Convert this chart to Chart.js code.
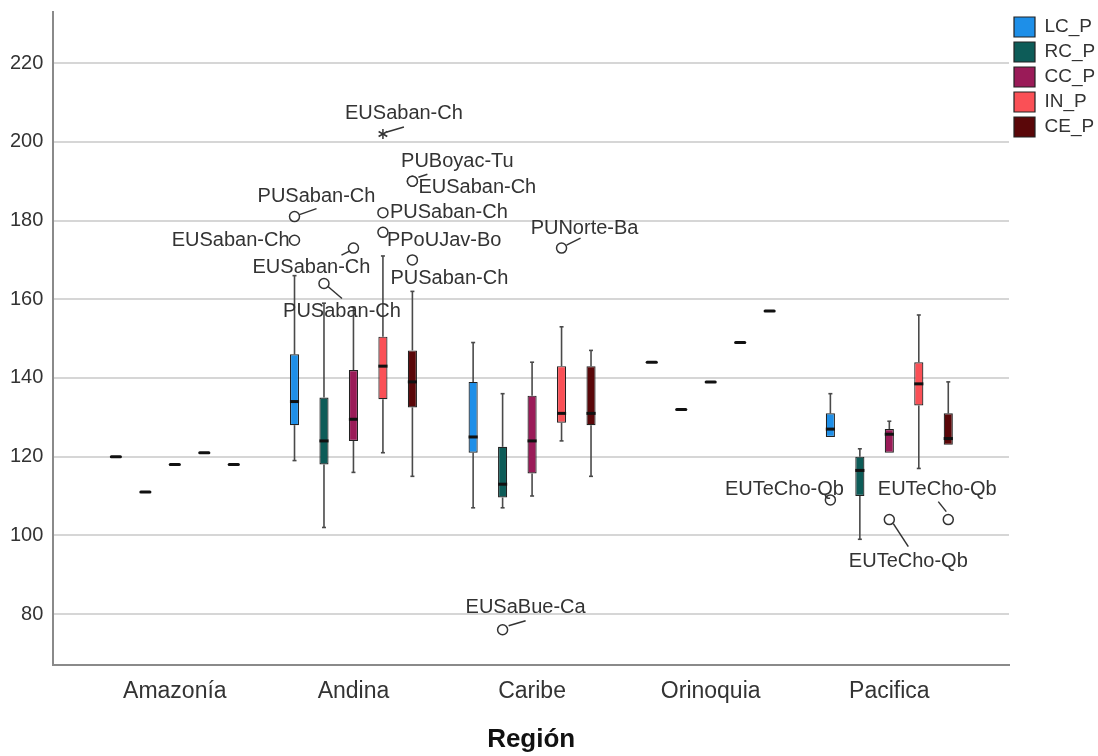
<!DOCTYPE html>
<html lang="es">
<head>
<meta charset="UTF-8">
<title>Diagrama de cajas por Región</title>
<script src="https://cdn.jsdelivr.net/npm/chart.js"></script>
<style>
  html, body { margin: 0; padding: 0; background: #fff; }
  #wrap { width: 1098px; height: 756px; }
</style>
</head>
<body>
<div id="wrap"><canvas id="boxChart" width="1098" height="756"></canvas></div>
<script>
// categories and series
const regions = ['Amazonía', 'Andina', 'Caribe', 'Orinoquia', 'Pacifica'];
const seriesNames = ['LC_P', 'RC_P', 'CC_P', 'IN_P', 'CE_P'];

// [min, q1, median, q3, max] per region (single cases: all five equal)
const lcStats = [[120, 120, 120, 120, 120], [119, 128, 134, 146, 166], [107, 121, 125, 139, 149], [144, 144, 144, 144, 144], [125, 125, 127, 131, 136]];
const rcStats = [[111, 111, 111, 111, 111], [102, 118, 124, 135, 159], [107, 109.6, 113, 122.5, 136], [132, 132, 132, 132, 132], [99, 110, 116.5, 120, 122]];
const ccStats = [[118, 118, 118, 118, 118], [116, 124, 129.5, 142, 158], [110, 115.7, 124, 135.5, 144], [139, 139, 139, 139, 139], [121, 121, 125.7, 127, 129]];
const inStats = [[121, 121, 121, 121, 121], [121, 134.6, 143, 150.5, 171], [124, 128.6, 131, 143, 153], [149, 149, 149, 149, 149], [117, 133, 138.5, 144, 156]];
const ceStats = [[118, 118, 118, 118, 118], [115, 132.5, 139, 147, 162], [115, 128, 131, 143, 147], [157, 157, 157, 157, 157], [123, 123, 124.6, 131, 139]];
const allStats = [lcStats, rcStats, ccStats, inStats, ceStats];

const yTicks = [80, 100, 120, 140, 160, 180, 200, 220];

// outliers: [region, series, value, case label, marker]
const outliers = [
  ['Andina', 'LC_P', 181, 'PUSaban-Ch', 'o'],
  ['Andina', 'LC_P', 175, 'EUSaban-Ch', 'o'],
  ['Andina', 'RC_P', 164, 'PUSaban-Ch', 'o'],
  ['Andina', 'CC_P', 173, 'EUSaban-Ch', 'o'],
  ['Andina', 'IN_P', 202, 'EUSaban-Ch', '*'],
  ['Andina', 'IN_P', 182, 'PUSaban-Ch', 'o'],
  ['Andina', 'IN_P', 177, 'PPoUJav-Bo', 'o'],
  ['Andina', 'CE_P', 190, 'PUBoyac-Tu', 'o'],
  ['Andina', 'CE_P', 190, 'EUSaban-Ch', 'o'],
  ['Andina', 'CE_P', 170, 'PUSaban-Ch', 'o'],
  ['Caribe', 'RC_P', 76, 'EUSaBue-Ca', 'o'],
  ['Caribe', 'IN_P', 173, 'PUNorte-Ba', 'o'],
  ['Pacifica', 'LC_P', 109, 'EUTeCho-Qb', 'o'],
  ['Pacifica', 'CC_P', 104, 'EUTeCho-Qb', 'o'],
  ['Pacifica', 'CE_P', 104, 'EUTeCho-Qb', 'o']
];

// where each outlier's label sits, in px relative to its marker (same order)
const labelPlacement = [
  { dx: 22, dy: -20, align: 'center', lead: [5, -2, 22, -8] },
  { dx: -5, dy: 0, align: 'right' },
  { dx: 18, dy: 28, align: 'center', lead: [4, 3, 18, 15] },
  { dx: -42, dy: 19, align: 'center', lead: [-4, 3, -12, 7] },
  { dx: 21, dy: -20, align: 'center', lead: [4, -2, 21, -7] },
  { dx: 7, dy: 0, align: 'left' },
  { dx: 4, dy: 8, align: 'left' },
  { dx: 45, dy: -20, align: 'center', lead: [6, -4, 15, -7] },
  { dx: 6, dy: 6, align: 'left' },
  { dx: 37, dy: 19, align: 'center' },
  { dx: 23, dy: -22, align: 'center', lead: [6, -4, 23, -9] },
  { dx: 23, dy: -20, align: 'center', lead: [5, -3, 19, -10] },
  { dx: -46, dy: -10, align: 'center' },
  { dx: 19, dy: 42, align: 'center', lead: [4, 4, 19, 27] },
  { dx: -11, dy: -30, align: 'center', lead: [-2, -8, -10, -18] }
];

const seriesColors = ['#1E8FE8', '#0D5C58', '#9A1B58', '#FA5056', '#5A0709'];
const FONT = '"Liberation Sans", Arial, sans-serif';
const CAT_PCT = 0.825;
const BAR_PCT = 0.31;

Chart.defaults.font.family = FONT;

// pixel x of a series inside a region, same math as grouped bars
function markX(chart, ci, si) {
  const xs = chart.scales.x;
  const unit = xs.getPixelForValue(1) - xs.getPixelForValue(0);
  const chunk = unit * CAT_PCT / seriesNames.length;
  return xs.getPixelForValue(ci) + (si - (seriesNames.length - 1) / 2) * chunk;
}
function halfWidth(chart) {
  const xs = chart.scales.x;
  const unit = xs.getPixelForValue(1) - xs.getPixelForValue(0);
  return unit * CAT_PCT / seriesNames.length * BAR_PCT / 2;
}

const boxPlugin = {
  id: 'boxParts',
  beforeDatasetsDraw(chart) {
    // whiskers behind the boxes
    const ctx = chart.ctx, ys = chart.scales.y;
    ctx.save();
    ctx.strokeStyle = '#4a4a4a';
    ctx.lineWidth = 1.6;
    allStats.forEach((stats, si) => {
      stats.forEach((s, ci) => {
        if (s[1] === s[3]) return;
        const x = markX(chart, ci, si);
        const segs = [[s[3], s[4]], [s[1], s[0]]];
        segs.forEach(([a, b]) => {
          if (a === b) return;
          ctx.beginPath();
          ctx.moveTo(x, ys.getPixelForValue(a));
          ctx.lineTo(x, ys.getPixelForValue(b));
          ctx.stroke();
          ctx.beginPath();
          ctx.moveTo(x - 2, ys.getPixelForValue(b));
          ctx.lineTo(x + 2, ys.getPixelForValue(b));
          ctx.stroke();
        });
      });
    });
    ctx.restore();
  },
  afterDatasetsDraw(chart) {
    const ctx = chart.ctx, ys = chart.scales.y;
    const hw = halfWidth(chart);
    ctx.save();
    // medians
    ctx.strokeStyle = '#111';
    ctx.lineWidth = 3;
    allStats.forEach((stats, si) => {
      stats.forEach((s, ci) => {
        const x = markX(chart, ci, si);
        const y = ys.getPixelForValue(s[2]);
        ctx.lineCap = s[1] === s[3] ? 'round' : 'butt';
        ctx.beginPath();
        ctx.moveTo(x - hw, y);
        ctx.lineTo(x + hw, y);
        ctx.stroke();
      });
    });
    ctx.lineCap = 'butt';
    // outliers, leader lines and case labels
    ctx.font = '20px ' + FONT;
    ctx.textBaseline = 'middle';
    outliers.forEach((o, k) => {
      const ci = regions.indexOf(o[0]);
      const si = seriesNames.indexOf(o[1]);
      const x = markX(chart, ci, si);
      const y = ys.getPixelForValue(o[2]);
      ctx.strokeStyle = '#333';
      ctx.lineWidth = 1.5;
      if (o[4] === '*') {
        for (let a = 0; a < 3; a++) {
          const ang = Math.PI / 2 + a * Math.PI / 3;
          ctx.beginPath();
          ctx.moveTo(x - 5 * Math.cos(ang), y - 5 * Math.sin(ang));
          ctx.lineTo(x + 5 * Math.cos(ang), y + 5 * Math.sin(ang));
          ctx.stroke();
        }
      } else {
        ctx.beginPath();
        ctx.arc(x, y, 5, 0, Math.PI * 2);
        ctx.fillStyle = '#fff';
        ctx.fill();
        ctx.stroke();
      }
      const p = labelPlacement[k];
      if (p.lead) {
        ctx.beginPath();
        ctx.moveTo(x + p.lead[0], y + p.lead[1]);
        ctx.lineTo(x + p.lead[2], y + p.lead[3]);
        ctx.stroke();
      }
      ctx.fillStyle = '#333';
      ctx.textAlign = p.align;
      ctx.fillText(o[3], x + p.dx, y + p.dy);
    });
    ctx.restore();
  }
};

const datasets = seriesNames.map((name, si) => ({
  label: name,
  data: allStats[si]
    .map((s, ci) => ({ x: ci, y: [s[1], s[3]] }))
    .filter(d => d.y[0] !== d.y[1]),
  backgroundColor: seriesColors[si],
  borderColor: '#222',
  borderWidth: 1.2,
  borderSkipped: false,
  barPercentage: BAR_PCT,
  categoryPercentage: CAT_PCT
}));

// no extra edge padding for the tick labels
function noEdgePadding(ax) {
  ax.paddingTop = 0;
  ax.paddingBottom = 0;
  ax.paddingLeft = 0;
  ax.paddingRight = 0;
}

new Chart(document.getElementById('boxChart'), {
  type: 'bar',
  data: { datasets },
  plugins: [boxPlugin],
  options: {
    responsive: false,
    animation: false,
    layout: { padding: { left: 0, top: 12, right: 0, bottom: 0 } },
    plugins: {
      legend: {
        position: 'right',
        align: 'start',
        maxWidth: 89,
        labels: {
          boxWidth: 21,
          boxHeight: 20,
          padding: 5,
          color: '#333',
          font: { size: 19, family: FONT }
        }
      },
      tooltip: { enabled: false }
    },
    scales: {
      x: {
        type: 'linear',
        offset: false,
        min: -0.68,
        max: 4.67,
        afterBuildTicks: ax => { ax.ticks = regions.map((r, i) => ({ value: i })); },
        afterFit: noEdgePadding,
        ticks: {
          callback: v => regions[v],
          padding: 13,
          color: '#333',
          font: { size: 23, family: FONT }
        },
        grid: { color: 'rgba(0,0,0,0)', drawTicks: false, offset: false },
        border: { color: '#8a8a8a', width: 2 },
        title: {
          display: true,
          text: 'Región',
          color: '#111',
          font: { size: 26, weight: 'bold', family: FONT },
          padding: { top: 5, bottom: 1 }
        }
      },
      y: {
        min: 67,
        max: 233,
        afterBuildTicks: ax => { ax.ticks = yTicks.map(v => ({ value: v })); },
        afterFit: noEdgePadding,
        ticks: { padding: 10, color: '#333', font: { size: 20, family: FONT } },
        grid: { color: '#d6d6d6', lineWidth: 2, drawTicks: false },
        border: { color: '#8a8a8a', width: 2 }
      }
    }
  }
});
</script>
</body>
</html>
